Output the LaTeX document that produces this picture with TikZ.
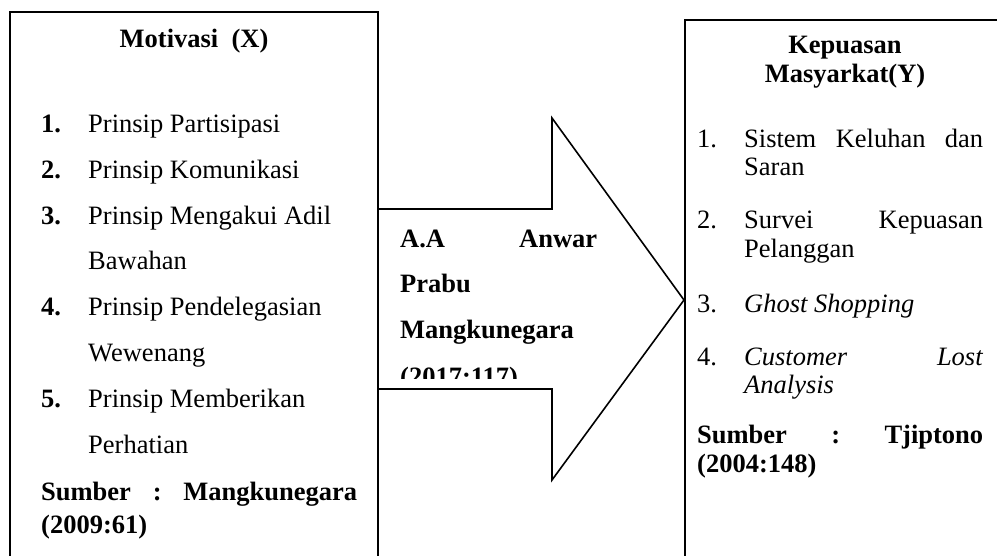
\documentclass[tikz,border=0pt]{standalone}
\usepackage{fontspec}
\setmainfont{Liberation Serif}
\begin{document}
\tikzset{
  txt/.style={anchor=base west, inner sep=0pt, font=\fontsize{26.5}{30}\selectfont},
  btxt/.style={txt, font=\fontsize{26.5}{30}\selectfont\bfseries},
  ttl/.style={anchor=base, inner sep=0pt, font=\fontsize{26.5}{30}\selectfont\bfseries},
  frame/.style={line width=2pt},
  blockarrow/.style={line width=1.6pt, line join=miter, fill=white}
}
\begin{tikzpicture}[x=1pt,y=-1pt]
\useasboundingbox (0,0) rectangle (997,555);
\clip (0,0) rectangle (997,555);
% boxes
\draw[frame] (10,565) -- (10,12) -- (378,12) -- (378,565);
\draw[frame] (685,565) -- (685,20) -- (1005,20);
% block arrow
\draw[blockarrow] (378,209) -- (552,209) -- (552,118) -- (684,300) -- (552,480) -- (552,389) -- (378,389) -- cycle;

% left box
\node[ttl] (ltitle) at (194,47) {Motivasi\ \ (X)};
\node[btxt] (ln1) at (41,132) {1.};
\node[txt] (lt1) at (88,132) {Prinsip Partisipasi};
\node[btxt] (ln2) at (41,178) {2.};
\node[txt] (lt2) at (88,178) {Prinsip Komunikasi};
\node[btxt] (ln3) at (41,224) {3.};
\node[txt] (lt3) at (88,224) {Prinsip Mengakui Adil};
\node[txt] (lt3b) at (88,269) {Bawahan};
\node[btxt] (ln4) at (41,315) {4.};
\node[txt] (lt4) at (88,315) {Prinsip Pendelegasian};
\node[txt] (lt4b) at (88,361) {Wewenang};
\node[btxt] (ln5) at (41,407) {5.};
\node[txt] (lt5) at (88,407) {Prinsip Memberikan};
\node[txt] (lt5b) at (88,453) {Perhatian};
\node[btxt] (lsrc) at (41,500) {\hbox to 316pt{Sumber\hfill:\hfill Mangkunegara}};
\node[btxt] (lsrcb) at (41,533) {(2009:61)};

% arrow text (clipped at the bottom)
\begin{scope}
\clip (380,211) rectangle (680,378);
\node[btxt] (a1) at (400,247) {\hbox to 197pt{A.A\hfill Anwar}};
\node[btxt] (a2) at (400,292) {Prabu};
\node[btxt] (a3) at (400,338) {Mangkunegara};
\node[btxt] (a4) at (400,385) {(2017:117)};
\end{scope}

% right box
\node[ttl] (rtitle) at (845,53) {Kepuasan};
\node[ttl] (rtitleb) at (845,82) {Masyarkat(Y)};
\node[txt] (rn1) at (697,147) {1.};
\node[txt] (rt1) at (744,147) {\hbox to 239pt{Sistem\hfill Keluhan\hfill dan}};
\node[txt] (rt1b) at (744,175) {Saran};
\node[txt] (rn2) at (697,228) {2.};
\node[txt] (rt2) at (744,228) {\hbox to 239pt{Survei\hfill Kepuasan}};
\node[txt] (rt2b) at (744,257) {Pelanggan};
\node[txt] (rn3) at (697,312) {3.};
\node[txt] (rt3) at (744,312) {\textit{Ghost Shopping}};
\node[txt] (rn4) at (697,365) {4.};
\node[txt] (rt4) at (744,365) {\hbox to 239pt{\textit{Customer}\hfill\textit{Lost}}};
\node[txt] (rt4b) at (744,393) {\textit{Analysis}};
\node[btxt] (rsrc) at (697,443) {\hbox to 286pt{Sumber\hfill:\hfill Tjiptono}};
\node[btxt] (rsrcb) at (697,472) {(2004:148)};
\end{tikzpicture}
\end{document}
